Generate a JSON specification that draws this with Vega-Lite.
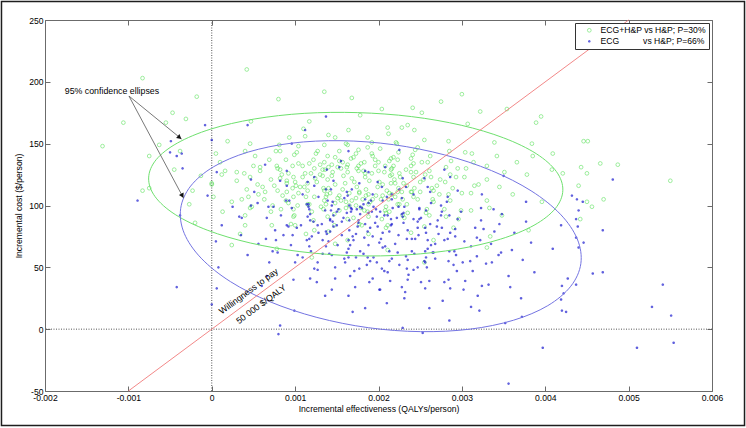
{
"$schema": "https://vega.github.io/schema/vega-lite/v6.json",
"width": 667, "height": 371,
"autosize": {"type": "none"},
"padding": {"left": 45, "top": 20, "right": 34, "bottom": 37},
"background": "white",
"data": {"values": [{}]},
"datasets": {
"pts": [
{"s":"g","x":0.00171,"y":119},{"s":"g","x":0.00158,"y":124},{"s":"g","x":0.00185,"y":113},{"s":"g","x":0.00165,"y":110},{"s":"g","x":0.00192,"y":126},{"s":"g","x":0.00148,"y":117},{"s":"g","x":0.00201,"y":119},{"s":"g","x":0.00176,"y":128},{"s":"g","x":0.00139,"y":121},{"s":"g","x":0.00210,"y":112},
{"s":"g","x":0.00162,"y":131},{"s":"g","x":0.00181,"y":105},{"s":"g","x":0.00153,"y":108},{"s":"g","x":0.00196,"y":132},{"s":"g","x":0.00134,"y":114},{"s":"g","x":0.00214,"y":124},{"s":"g","x":0.00174,"y":115},{"s":"g","x":0.00189,"y":120},{"s":"g","x":0.00145,"y":127},{"s":"g","x":0.00168,"y":122},
{"s":"g","x":0.00205,"y":108},{"s":"g","x":0.00130,"y":125},{"s":"g","x":0.00179,"y":134},{"s":"g","x":0.00157,"y":113},{"s":"g","x":0.00220,"y":118},{"s":"g","x":0.00188,"y":109},{"s":"g","x":0.00142,"y":110},{"s":"g","x":0.00199,"y":115},{"s":"g","x":0.00163,"y":127},{"s":"g","x":0.00173,"y":106},
{"s":"g","x":0.00151,"y":131},{"s":"g","x":0.00216,"y":130},{"s":"g","x":0.00184,"y":123},{"s":"g","x":0.00126,"y":119},{"s":"g","x":0.00207,"y":127},{"s":"g","x":0.00136,"y":129},{"s":"g","x":0.00193,"y":105},{"s":"g","x":0.00177,"y":111},{"s":"g","x":0.00160,"y":118},{"s":"g","x":0.00224,"y":114},
{"s":"g","x":0.00230,"y":118},{"s":"g","x":0.00254,"y":121},{"s":"g","x":0.00242,"y":123},{"s":"g","x":0.00261,"y":128},{"s":"g","x":0.00225,"y":126},{"s":"g","x":0.00239,"y":132},{"s":"g","x":0.00213,"y":136},{"s":"g","x":0.00223,"y":137},{"s":"g","x":0.00200,"y":128},{"s":"g","x":0.00196,"y":137},
{"s":"g","x":0.00183,"y":135},{"s":"g","x":0.00173,"y":142},{"s":"g","x":0.00163,"y":133},{"s":"g","x":0.00148,"y":139},{"s":"g","x":0.00144,"y":133},{"s":"g","x":0.00122,"y":137},{"s":"g","x":0.00133,"y":129},{"s":"g","x":0.00109,"y":132},{"s":"g","x":0.00112,"y":126},{"s":"g","x":0.00082,"y":129},
{"s":"g","x":0.00109,"y":123},{"s":"g","x":0.00082,"y":122},{"s":"g","x":0.00100,"y":119},{"s":"g","x":0.00075,"y":116},{"s":"g","x":0.00111,"y":115},{"s":"g","x":0.00090,"y":111},{"s":"g","x":0.00104,"y":110},{"s":"g","x":0.00089,"y":104},{"s":"g","x":0.00123,"y":107},{"s":"g","x":0.00115,"y":101},
{"s":"g","x":0.00135,"y":104},{"s":"g","x":0.00134,"y":97},{"s":"g","x":0.00155,"y":104},{"s":"g","x":0.00161,"y":98},{"s":"g","x":0.00173,"y":100},{"s":"g","x":0.00187,"y":95},{"s":"g","x":0.00190,"y":103},{"s":"g","x":0.00209,"y":99},{"s":"g","x":0.00212,"y":105},{"s":"g","x":0.00234,"y":101},
{"s":"g","x":0.00216,"y":109},{"s":"g","x":0.00242,"y":107},{"s":"g","x":0.00239,"y":111},{"s":"g","x":0.00266,"y":112},{"s":"g","x":0.00234,"y":116},
{"s":"g","x":0.00250,"y":119},{"s":"g","x":0.00263,"y":123},{"s":"g","x":0.00226,"y":123},{"s":"g","x":0.00245,"y":127},{"s":"g","x":0.00233,"y":129},{"s":"g","x":0.00242,"y":134},{"s":"g","x":0.00208,"y":132},{"s":"g","x":0.00218,"y":139},{"s":"g","x":0.00200,"y":135},{"s":"g","x":0.00193,"y":140},
{"s":"g","x":0.00176,"y":132},{"s":"g","x":0.00167,"y":138},{"s":"g","x":0.00157,"y":135},{"s":"g","x":0.00139,"y":140},{"s":"g","x":0.00135,"y":135},{"s":"g","x":0.00117,"y":134},{"s":"g","x":0.00123,"y":130},{"s":"g","x":0.00097,"y":132},{"s":"g","x":0.00119,"y":126},{"s":"g","x":0.00092,"y":126},
{"s":"g","x":0.00098,"y":123},{"s":"g","x":0.00071,"y":121},{"s":"g","x":0.00090,"y":118},{"s":"g","x":0.00101,"y":116},{"s":"g","x":0.00079,"y":112},{"s":"g","x":0.00115,"y":112},{"s":"g","x":0.00098,"y":107},{"s":"g","x":0.00113,"y":107},{"s":"g","x":0.00103,"y":100},{"s":"g","x":0.00137,"y":107},
{"s":"g","x":0.00131,"y":99},{"s":"g","x":0.00148,"y":102},{"s":"g","x":0.00153,"y":96},{"s":"g","x":0.00168,"y":104},{"s":"g","x":0.00179,"y":98},{"s":"g","x":0.00188,"y":101},{"s":"g","x":0.00208,"y":96},{"s":"g","x":0.00203,"y":105},{"s":"g","x":0.00225,"y":101},{"s":"g","x":0.00220,"y":107},
{"s":"g","x":0.00247,"y":105},{"s":"g","x":0.00223,"y":111},{"s":"g","x":0.00250,"y":111},{"s":"g","x":0.00243,"y":114},{"s":"g","x":0.00270,"y":116},
{"s":"g","x":0.00280,"y":119},{"s":"g","x":0.00303,"y":123},{"s":"g","x":0.00286,"y":125},{"s":"g","x":0.00305,"y":130},{"s":"g","x":0.00281,"y":131},{"s":"g","x":0.00287,"y":136},{"s":"g","x":0.00259,"y":135},{"s":"g","x":0.00262,"y":140},{"s":"g","x":0.00239,"y":138},{"s":"g","x":0.00244,"y":145},
{"s":"g","x":0.00224,"y":143},{"s":"g","x":0.00222,"y":150},{"s":"g","x":0.00202,"y":146},{"s":"g","x":0.00192,"y":151},{"s":"g","x":0.00176,"y":145},{"s":"g","x":0.00163,"y":149},{"s":"g","x":0.00153,"y":144},{"s":"g","x":0.00135,"y":149},{"s":"g","x":0.00127,"y":144},{"s":"g","x":0.00104,"y":148},
{"s":"g","x":0.00102,"y":143},{"s":"g","x":0.00082,"y":144},{"s":"g","x":0.00089,"y":137},{"s":"g","x":0.00069,"y":137},{"s":"g","x":0.00078,"y":132},{"s":"g","x":0.00050,"y":132},{"s":"g","x":0.00058,"y":128},{"s":"g","x":0.00030,"y":127},{"s":"g","x":0.00046,"y":123},{"s":"g","x":0.00030,"y":120},
{"s":"g","x":0.00055,"y":117},{"s":"g","x":0.00042,"y":113},{"s":"g","x":0.00064,"y":111},{"s":"g","x":0.00044,"y":107},{"s":"g","x":0.00063,"y":105},{"s":"g","x":0.00048,"y":99},{"s":"g","x":0.00073,"y":100},{"s":"g","x":0.00071,"y":95},{"s":"g","x":0.00098,"y":97},{"s":"g","x":0.00099,"y":92},
{"s":"g","x":0.00120,"y":95},{"s":"g","x":0.00122,"y":88},{"s":"g","x":0.00139,"y":91},{"s":"g","x":0.00147,"y":84},{"s":"g","x":0.00163,"y":89},{"s":"g","x":0.00177,"y":85},{"s":"g","x":0.00188,"y":91},{"s":"g","x":0.00204,"y":89},{"s":"g","x":0.00209,"y":94},{"s":"g","x":0.00231,"y":90},
{"s":"g","x":0.00235,"y":94},{"s":"g","x":0.00261,"y":92},{"s":"g","x":0.00258,"y":97},{"s":"g","x":0.00279,"y":97},{"s":"g","x":0.00266,"y":103},{"s":"g","x":0.00286,"y":104},{"s":"g","x":0.00273,"y":109},{"s":"g","x":0.00300,"y":110},{"s":"g","x":0.00289,"y":114},{"s":"g","x":0.00315,"y":116},
{"s":"g","x":0.00330,"y":121},{"s":"g","x":0.00351,"y":127},{"s":"g","x":0.00330,"y":132},{"s":"g","x":0.00342,"y":140},{"s":"g","x":0.00312,"y":142},{"s":"g","x":0.00285,"y":144},{"s":"g","x":0.00284,"y":152},{"s":"g","x":0.00255,"y":153},{"s":"g","x":0.00243,"y":161},{"s":"g","x":0.00212,"y":158},
{"s":"g","x":0.00187,"y":155},{"s":"g","x":0.00164,"y":161},{"s":"g","x":0.00140,"y":157},{"s":"g","x":0.00110,"y":162},{"s":"g","x":0.00093,"y":155},{"s":"g","x":0.00081,"y":149},{"s":"g","x":0.00046,"y":150},{"s":"g","x":0.00040,"y":144},{"s":"g","x":0.00005,"y":142},{"s":"g","x":0.00010,"y":135},
{"s":"g","x":0.00016,"y":128},{"s":"g","x":-0.00013,"y":124},{"s":"g","x":0.00000,"y":118},{"s":"g","x":-0.00023,"y":112},{"s":"g","x":0.00002,"y":107},{"s":"g","x":0.00024,"y":103},{"s":"g","x":0.00013,"y":95},{"s":"g","x":0.00040,"y":92},{"s":"g","x":0.00040,"y":84},{"s":"g","x":0.00072,"y":84},
{"s":"g","x":0.00100,"y":84},{"s":"g","x":0.00113,"y":77},{"s":"g","x":0.00140,"y":79},{"s":"g","x":0.00163,"y":72},{"s":"g","x":0.00188,"y":77},{"s":"g","x":0.00209,"y":82},{"s":"g","x":0.00239,"y":78},{"s":"g","x":0.00255,"y":83},{"s":"g","x":0.00290,"y":82},{"s":"g","x":0.00296,"y":89},
{"s":"g","x":0.00299,"y":96},{"s":"g","x":0.00333,"y":98},{"s":"g","x":0.00330,"y":104},{"s":"g","x":0.00361,"y":109},{"s":"g","x":0.00345,"y":115},
{"s":"g","x":0.00378,"y":125},{"s":"g","x":0.00385,"y":140},{"s":"g","x":0.00339,"y":151},{"s":"g","x":0.00307,"y":166},{"s":"g","x":0.00235,"y":165},{"s":"g","x":0.00178,"y":173},{"s":"g","x":0.00117,"y":168},{"s":"g","x":0.00047,"y":168},{"s":"g","x":0.00019,"y":152},{"s":"g","x":-0.00038,"y":144},
{"s":"g","x":-0.00045,"y":129},{"s":"g","x":-0.00075,"y":114},{"s":"g","x":-0.00027,"y":101},{"s":"g","x":-0.00020,"y":86},{"s":"g","x":0.00034,"y":77},{"s":"g","x":0.00078,"y":65},{"s":"g","x":0.00148,"y":69},{"s":"g","x":0.00211,"y":64},{"s":"g","x":0.00266,"y":72},{"s":"g","x":0.00334,"y":75},
{"s":"g","x":0.00348,"y":92},{"s":"g","x":0.00396,"y":103},
{"s":"g","x":0.00215,"y":118},{"s":"g","x":0.00293,"y":123},{"s":"g","x":0.00256,"y":125},{"s":"g","x":0.00314,"y":135},{"s":"g","x":0.00216,"y":125},{"s":"g","x":0.00252,"y":135},{"s":"g","x":0.00218,"y":132},{"s":"g","x":0.00247,"y":147},{"s":"g","x":0.00184,"y":126},{"s":"g","x":0.00182,"y":128},
{"s":"g","x":0.00187,"y":147},{"s":"g","x":0.00170,"y":139},{"s":"g","x":0.00148,"y":155},{"s":"g","x":0.00155,"y":130},{"s":"g","x":0.00125,"y":142},{"s":"g","x":0.00130,"y":133},{"s":"g","x":0.00077,"y":144},{"s":"g","x":0.00144,"y":124},{"s":"g","x":0.00133,"y":124},{"s":"g","x":0.00058,"y":131},
{"s":"g","x":0.00084,"y":125},{"s":"g","x":0.00012,"y":125},{"s":"g","x":0.00115,"y":118},{"s":"g","x":0.00061,"y":115},{"s":"g","x":0.00097,"y":114},{"s":"g","x":0.00036,"y":105},{"s":"g","x":0.00140,"y":114},{"s":"g","x":0.00135,"y":112},{"s":"g","x":0.00083,"y":97},{"s":"g","x":0.00117,"y":101},
{"s":"g","x":0.00095,"y":85},{"s":"g","x":0.00151,"y":106},{"s":"g","x":0.00147,"y":93},{"s":"g","x":0.00165,"y":100},{"s":"g","x":0.00180,"y":84},{"s":"g","x":0.00177,"y":110},{"s":"g","x":0.00185,"y":108},{"s":"g","x":0.00229,"y":92},{"s":"g","x":0.00223,"y":101},{"s":"g","x":0.00281,"y":91},
{"s":"g","x":0.00213,"y":110},{"s":"g","x":0.00265,"y":105},{"s":"g","x":0.00240,"y":111},{"s":"g","x":0.00311,"y":110},{"s":"g","x":0.00205,"y":117},
{"s":"g","x":0.00274,"y":121},{"s":"g","x":0.00219,"y":121},{"s":"g","x":0.00295,"y":130},{"s":"g","x":0.00239,"y":127},{"s":"g","x":0.00304,"y":143},{"s":"g","x":0.00215,"y":129},{"s":"g","x":0.00241,"y":141},{"s":"g","x":0.00215,"y":138},{"s":"g","x":0.00221,"y":151},{"s":"g","x":0.00192,"y":142},
{"s":"g","x":0.00174,"y":130},{"s":"g","x":0.00161,"y":150},{"s":"g","x":0.00153,"y":136},{"s":"g","x":0.00112,"y":156},{"s":"g","x":0.00140,"y":131},{"s":"g","x":0.00099,"y":141},{"s":"g","x":0.00104,"y":134},{"s":"g","x":0.00052,"y":140},{"s":"g","x":0.00079,"y":130},{"s":"g","x":0.00124,"y":122},
{"s":"g","x":0.00039,"y":126},{"s":"g","x":0.00090,"y":120},{"s":"g","x":0.00000,"y":117},{"s":"g","x":0.00106,"y":115},{"s":"g","x":0.00056,"y":109},{"s":"g","x":0.00085,"y":108},{"s":"g","x":0.00046,"y":98},{"s":"g","x":0.00092,"y":102},{"s":"g","x":0.00138,"y":109},{"s":"g","x":0.00098,"y":91},
{"s":"g","x":0.00137,"y":101},{"s":"g","x":0.00123,"y":80},{"s":"g","x":0.00161,"y":103},{"s":"g","x":0.00170,"y":90},{"s":"g","x":0.00183,"y":96},{"s":"g","x":0.00211,"y":84},{"s":"g","x":0.00213,"y":95},{"s":"g","x":0.00197,"y":108},{"s":"g","x":0.00257,"y":94},{"s":"g","x":0.00229,"y":105},
{"s":"g","x":0.00311,"y":96},{"s":"g","x":0.00228,"y":111},{"s":"g","x":0.00284,"y":109},{"s":"g","x":0.00264,"y":114},{"s":"g","x":0.00320,"y":117},
{"s":"g","x":-0.00131,"y":148},{"s":"g","x":-0.00106,"y":167},{"s":"g","x":-0.00083,"y":203},{"s":"g","x":-0.00047,"y":175},{"s":"g","x":-0.00055,"y":167},{"s":"g","x":-0.00031,"y":170},{"s":"g","x":-0.00083,"y":112},{"s":"g","x":-0.00075,"y":140},{"s":"g","x":-0.00063,"y":149},{"s":"g","x":-0.00018,"y":188},
{"s":"g","x":0.00042,"y":210},{"s":"g","x":0.00446,"y":152},{"s":"g","x":0.00451,"y":152},{"s":"g","x":0.00443,"y":131},{"s":"g","x":0.00466,"y":134},{"s":"g","x":0.00487,"y":133},{"s":"g","x":0.00450,"y":126},{"s":"g","x":0.00440,"y":116},{"s":"g","x":0.00550,"y":120},{"s":"g","x":0.00470,"y":105},
{"s":"g","x":0.00450,"y":103},{"s":"g","x":0.00456,"y":99},{"s":"g","x":0.00442,"y":89},{"s":"g","x":0.00421,"y":126},{"s":"g","x":0.00384,"y":150},{"s":"g","x":0.00395,"y":172},{"s":"g","x":0.00389,"y":167},{"s":"g","x":0.00354,"y":178},{"s":"g","x":0.00241,"y":179},{"s":"g","x":0.00204,"y":178},
{"s":"g","x":0.00252,"y":175},{"s":"g","x":0.00211,"y":163},{"s":"g","x":0.00228,"y":163},{"s":"g","x":0.00408,"y":129},{"s":"g","x":0.00409,"y":142},{"s":"g","x":0.00366,"y":135},{"s":"g","x":0.00080,"y":186},{"s":"g","x":0.00135,"y":192},{"s":"g","x":0.00275,"y":184},{"s":"g","x":0.00300,"y":190},
{"s":"g","x":0.00168,"y":187},{"s":"g","x":0.00322,"y":176},{"s":"g","x":0.00024,"y":68},{"s":"g","x":0.00120,"y":58},{"s":"g","x":0.00255,"y":54},{"s":"g","x":0.00330,"y":66},{"s":"g","x":0.00380,"y":80},
{"s":"b","x":0.00190,"y":82},{"s":"b","x":0.00176,"y":88},{"s":"b","x":0.00205,"y":78},{"s":"b","x":0.00183,"y":74},{"s":"b","x":0.00198,"y":91},{"s":"b","x":0.00165,"y":80},{"s":"b","x":0.00215,"y":84},{"s":"b","x":0.00192,"y":95},{"s":"b","x":0.00158,"y":90},{"s":"b","x":0.00224,"y":76},
{"s":"b","x":0.00180,"y":98},{"s":"b","x":0.00201,"y":70},{"s":"b","x":0.00170,"y":72},{"s":"b","x":0.00211,"y":92},{"s":"b","x":0.00150,"y":84},{"s":"b","x":0.00230,"y":86},{"s":"b","x":0.00187,"y":79},{"s":"b","x":0.00196,"y":86},{"s":"b","x":0.00162,"y":94},{"s":"b","x":0.00184,"y":85},
{"s":"b","x":0.00220,"y":69},{"s":"b","x":0.00146,"y":92},{"s":"b","x":0.00194,"y":99},{"s":"b","x":0.00173,"y":77},{"s":"b","x":0.00235,"y":80},{"s":"b","x":0.00203,"y":73},{"s":"b","x":0.00156,"y":76},{"s":"b","x":0.00213,"y":79},{"s":"b","x":0.00178,"y":93},{"s":"b","x":0.00188,"y":68},
{"s":"b","x":0.00167,"y":98},{"s":"b","x":0.00228,"y":93},{"s":"b","x":0.00199,"y":83},{"s":"b","x":0.00142,"y":88},{"s":"b","x":0.00222,"y":90},{"s":"b","x":0.00152,"y":97},{"s":"b","x":0.00208,"y":67},{"s":"b","x":0.00193,"y":75},{"s":"b","x":0.00175,"y":83},{"s":"b","x":0.00240,"y":73},
{"s":"b","x":0.00259,"y":72},{"s":"b","x":0.00283,"y":73},{"s":"b","x":0.00272,"y":77},{"s":"b","x":0.00292,"y":81},{"s":"b","x":0.00256,"y":82},{"s":"b","x":0.00271,"y":88},{"s":"b","x":0.00249,"y":89},{"s":"b","x":0.00257,"y":96},{"s":"b","x":0.00229,"y":91},{"s":"b","x":0.00231,"y":99},
{"s":"b","x":0.00217,"y":98},{"s":"b","x":0.00210,"y":107},{"s":"b","x":0.00197,"y":97},{"s":"b","x":0.00184,"y":105},{"s":"b","x":0.00178,"y":99},{"s":"b","x":0.00159,"y":106},{"s":"b","x":0.00167,"y":95},{"s":"b","x":0.00144,"y":100},{"s":"b","x":0.00143,"y":96},{"s":"b","x":0.00116,"y":99},
{"s":"b","x":0.00142,"y":89},{"s":"b","x":0.00115,"y":91},{"s":"b","x":0.00132,"y":85},{"s":"b","x":0.00107,"y":84},{"s":"b","x":0.00142,"y":79},{"s":"b","x":0.00120,"y":75},{"s":"b","x":0.00133,"y":72},{"s":"b","x":0.00117,"y":67},{"s":"b","x":0.00151,"y":68},{"s":"b","x":0.00141,"y":61},
{"s":"b","x":0.00162,"y":62},{"s":"b","x":0.00160,"y":54},{"s":"b","x":0.00182,"y":61},{"s":"b","x":0.00186,"y":52},{"s":"b","x":0.00198,"y":54},{"s":"b","x":0.00211,"y":46},{"s":"b","x":0.00216,"y":57},{"s":"b","x":0.00234,"y":49},{"s":"b","x":0.00235,"y":56},{"s":"b","x":0.00258,"y":50},
{"s":"b","x":0.00243,"y":61},{"s":"b","x":0.00268,"y":57},{"s":"b","x":0.00265,"y":62},{"s":"b","x":0.00293,"y":60},{"s":"b","x":0.00263,"y":68},
{"s":"b","x":0.00279,"y":72},{"s":"b","x":0.00292,"y":75},{"s":"b","x":0.00257,"y":78},{"s":"b","x":0.00276,"y":82},{"s":"b","x":0.00262,"y":85},{"s":"b","x":0.00275,"y":92},{"s":"b","x":0.00242,"y":89},{"s":"b","x":0.00249,"y":97},{"s":"b","x":0.00230,"y":94},{"s":"b","x":0.00224,"y":99},
{"s":"b","x":0.00216,"y":105},{"s":"b","x":0.00202,"y":95},{"s":"b","x":0.00191,"y":104},{"s":"b","x":0.00182,"y":101},{"s":"b","x":0.00163,"y":108},{"s":"b","x":0.00168,"y":97},{"s":"b","x":0.00145,"y":103},{"s":"b","x":0.00150,"y":95},{"s":"b","x":0.00136,"y":96},{"s":"b","x":0.00117,"y":97},
{"s":"b","x":0.00145,"y":87},{"s":"b","x":0.00118,"y":88},{"s":"b","x":0.00127,"y":84},{"s":"b","x":0.00102,"y":82},{"s":"b","x":0.00138,"y":77},{"s":"b","x":0.00117,"y":73},{"s":"b","x":0.00140,"y":71},{"s":"b","x":0.00137,"y":67},{"s":"b","x":0.00133,"y":61},{"s":"b","x":0.00164,"y":65},
{"s":"b","x":0.00159,"y":57},{"s":"b","x":0.00173,"y":58},{"s":"b","x":0.00177,"y":49},{"s":"b","x":0.00194,"y":58},{"s":"b","x":0.00204,"y":49},{"s":"b","x":0.00213,"y":55},{"s":"b","x":0.00225,"y":52},{"s":"b","x":0.00242,"y":48},{"s":"b","x":0.00233,"y":59},{"s":"b","x":0.00256,"y":54},
{"s":"b","x":0.00257,"y":58},{"s":"b","x":0.00284,"y":55},{"s":"b","x":0.00259,"y":65},{"s":"b","x":0.00285,"y":63},{"s":"b","x":0.00268,"y":69},
{"s":"b","x":0.00311,"y":67},{"s":"b","x":0.00335,"y":69},{"s":"b","x":0.00318,"y":74},{"s":"b","x":0.00339,"y":79},{"s":"b","x":0.00316,"y":82},{"s":"b","x":0.00323,"y":88},{"s":"b","x":0.00295,"y":89},{"s":"b","x":0.00299,"y":95},{"s":"b","x":0.00276,"y":95},{"s":"b","x":0.00282,"y":103},
{"s":"b","x":0.00263,"y":102},{"s":"b","x":0.00262,"y":111},{"s":"b","x":0.00242,"y":109},{"s":"b","x":0.00233,"y":115},{"s":"b","x":0.00216,"y":109},{"s":"b","x":0.00204,"y":115},{"s":"b","x":0.00193,"y":109},{"s":"b","x":0.00177,"y":118},{"s":"b","x":0.00168,"y":113},{"s":"b","x":0.00146,"y":120},
{"s":"b","x":0.00143,"y":113},{"s":"b","x":0.00123,"y":116},{"s":"b","x":0.00128,"y":107},{"s":"b","x":0.00109,"y":109},{"s":"b","x":0.00116,"y":101},{"s":"b","x":0.00089,"y":104},{"s":"b","x":0.00096,"y":98},{"s":"b","x":0.00068,"y":99},{"s":"b","x":0.00083,"y":92},{"s":"b","x":0.00066,"y":90},
{"s":"b","x":0.00090,"y":84},{"s":"b","x":0.00076,"y":80},{"s":"b","x":0.00097,"y":76},{"s":"b","x":0.00077,"y":72},{"s":"b","x":0.00095,"y":68},{"s":"b","x":0.00079,"y":62},{"s":"b","x":0.00103,"y":60},{"s":"b","x":0.00100,"y":54},{"s":"b","x":0.00127,"y":54},{"s":"b","x":0.00127,"y":48},
{"s":"b","x":0.00148,"y":50},{"s":"b","x":0.00148,"y":41},{"s":"b","x":0.00166,"y":43},{"s":"b","x":0.00172,"y":34},{"s":"b","x":0.00189,"y":38},{"s":"b","x":0.00202,"y":32},{"s":"b","x":0.00214,"y":39},{"s":"b","x":0.00228,"y":34},{"s":"b","x":0.00235,"y":40},{"s":"b","x":0.00256,"y":33},
{"s":"b","x":0.00261,"y":39},{"s":"b","x":0.00286,"y":33},{"s":"b","x":0.00284,"y":40},{"s":"b","x":0.00304,"y":39},{"s":"b","x":0.00294,"y":47},{"s":"b","x":0.00313,"y":47},{"s":"b","x":0.00301,"y":54},{"s":"b","x":0.00329,"y":53},{"s":"b","x":0.00318,"y":59},{"s":"b","x":0.00344,"y":60},
{"s":"b","x":0.00360,"y":64},{"s":"b","x":0.00383,"y":70},{"s":"b","x":0.00363,"y":78},{"s":"b","x":0.00377,"y":87},{"s":"b","x":0.00348,"y":93},{"s":"b","x":0.00323,"y":98},{"s":"b","x":0.00324,"y":109},{"s":"b","x":0.00295,"y":112},{"s":"b","x":0.00286,"y":123},{"s":"b","x":0.00255,"y":122},
{"s":"b","x":0.00229,"y":122},{"s":"b","x":0.00208,"y":131},{"s":"b","x":0.00184,"y":128},{"s":"b","x":0.00155,"y":136},{"s":"b","x":0.00138,"y":129},{"s":"b","x":0.00123,"y":123},{"s":"b","x":0.00090,"y":128},{"s":"b","x":0.00082,"y":120},{"s":"b","x":0.00047,"y":121},{"s":"b","x":0.00051,"y":111},
{"s":"b","x":0.00055,"y":102},{"s":"b","x":0.00025,"y":99},{"s":"b","x":0.00036,"y":90},{"s":"b","x":0.00012,"y":84},{"s":"b","x":0.00035,"y":76},{"s":"b","x":0.00056,"y":69},{"s":"b","x":0.00043,"y":60},{"s":"b","x":0.00069,"y":54},{"s":"b","x":0.00066,"y":43},{"s":"b","x":0.00098,"y":40},
{"s":"b","x":0.00126,"y":38},{"s":"b","x":0.00136,"y":27},{"s":"b","x":0.00164,"y":27},{"s":"b","x":0.00184,"y":17},{"s":"b","x":0.00210,"y":21},{"s":"b","x":0.00231,"y":25},{"s":"b","x":0.00261,"y":17},{"s":"b","x":0.00277,"y":23},{"s":"b","x":0.00311,"y":18},{"s":"b","x":0.00319,"y":27},
{"s":"b","x":0.00324,"y":35},{"s":"b","x":0.00358,"y":34},{"s":"b","x":0.00356,"y":43},{"s":"b","x":0.00387,"y":46},{"s":"b","x":0.00373,"y":56},
{"s":"b","x":0.00409,"y":65},{"s":"b","x":0.00419,"y":84},{"s":"b","x":0.00377,"y":103},{"s":"b","x":0.00350,"y":124},{"s":"b","x":0.00279,"y":129},{"s":"b","x":0.00225,"y":145},{"s":"b","x":0.00164,"y":144},{"s":"b","x":0.00096,"y":150},{"s":"b","x":0.00064,"y":133},{"s":"b","x":0.00006,"y":127},
{"s":"b","x":-0.00005,"y":108},{"s":"b","x":-0.00038,"y":92},{"s":"b","x":0.00005,"y":71},{"s":"b","x":0.00008,"y":50},{"s":"b","x":0.00060,"y":35},{"s":"b","x":0.00099,"y":15},{"s":"b","x":0.00169,"y":14},{"s":"b","x":0.00229,"y":1},{"s":"b","x":0.00285,"y":7},{"s":"b","x":0.00352,"y":5},
{"s":"b","x":0.00371,"y":25},{"s":"b","x":0.00420,"y":35},
{"s":"b","x":0.00244,"y":73},{"s":"b","x":0.00322,"y":72},{"s":"b","x":0.00286,"y":78},{"s":"b","x":0.00345,"y":85},{"s":"b","x":0.00247,"y":82},{"s":"b","x":0.00285,"y":92},{"s":"b","x":0.00251,"y":90},{"s":"b","x":0.00283,"y":107},{"s":"b","x":0.00216,"y":85},{"s":"b","x":0.00215,"y":89},
{"s":"b","x":0.00225,"y":113},{"s":"b","x":0.00205,"y":104},{"s":"b","x":0.00188,"y":127},{"s":"b","x":0.00188,"y":94},{"s":"b","x":0.00162,"y":111},{"s":"b","x":0.00165,"y":100},{"s":"b","x":0.00115,"y":119},{"s":"b","x":0.00176,"y":86},{"s":"b","x":0.00165,"y":88},{"s":"b","x":0.00093,"y":104},
{"s":"b","x":0.00118,"y":93},{"s":"b","x":0.00047,"y":100},{"s":"b","x":0.00146,"y":83},{"s":"b","x":0.00092,"y":83},{"s":"b","x":0.00128,"y":78},{"s":"b","x":0.00065,"y":73},{"s":"b","x":0.00169,"y":75},{"s":"b","x":0.00164,"y":72},{"s":"b","x":0.00109,"y":58},{"s":"b","x":0.00144,"y":60},
{"s":"b","x":0.00118,"y":41},{"s":"b","x":0.00178,"y":63},{"s":"b","x":0.00171,"y":47},{"s":"b","x":0.00190,"y":55},{"s":"b","x":0.00201,"y":32},{"s":"b","x":0.00205,"y":66},{"s":"b","x":0.00213,"y":63},{"s":"b","x":0.00251,"y":38},{"s":"b","x":0.00247,"y":50},{"s":"b","x":0.00302,"y":32},
{"s":"b","x":0.00240,"y":63},{"s":"b","x":0.00290,"y":52},{"s":"b","x":0.00266,"y":62},{"s":"b","x":0.00336,"y":54},{"s":"b","x":0.00234,"y":73},
{"s":"b","x":0.00303,"y":71},{"s":"b","x":0.00248,"y":76},{"s":"b","x":0.00326,"y":81},{"s":"b","x":0.00270,"y":83},{"s":"b","x":0.00338,"y":97},{"s":"b","x":0.00247,"y":87},{"s":"b","x":0.00275,"y":100},{"s":"b","x":0.00249,"y":98},{"s":"b","x":0.00259,"y":115},{"s":"b","x":0.00228,"y":106},
{"s":"b","x":0.00207,"y":92},{"s":"b","x":0.00199,"y":119},{"s":"b","x":0.00188,"y":102},{"s":"b","x":0.00153,"y":131},{"s":"b","x":0.00174,"y":97},{"s":"b","x":0.00137,"y":113},{"s":"b","x":0.00139,"y":104},{"s":"b","x":0.00090,"y":116},{"s":"b","x":0.00114,"y":101},{"s":"b","x":0.00156,"y":87},
{"s":"b","x":0.00074,"y":99},{"s":"b","x":0.00122,"y":87},{"s":"b","x":0.00033,"y":91},{"s":"b","x":0.00137,"y":79},{"s":"b","x":0.00086,"y":76},{"s":"b","x":0.00114,"y":72},{"s":"b","x":0.00073,"y":63},{"s":"b","x":0.00119,"y":63},{"s":"b","x":0.00166,"y":68},{"s":"b","x":0.00123,"y":49},
{"s":"b","x":0.00164,"y":58},{"s":"b","x":0.00144,"y":32},{"s":"b","x":0.00187,"y":58},{"s":"b","x":0.00193,"y":41},{"s":"b","x":0.00207,"y":47},{"s":"b","x":0.00232,"y":30},{"s":"b","x":0.00236,"y":44},{"s":"b","x":0.00223,"y":62},{"s":"b","x":0.00279,"y":38},{"s":"b","x":0.00255,"y":55},
{"s":"b","x":0.00332,"y":36},{"s":"b","x":0.00256,"y":63},{"s":"b","x":0.00310,"y":55},{"s":"b","x":0.00291,"y":63},{"s":"b","x":0.00347,"y":62},
{"s":"b","x":0.00481,"y":121},{"s":"b","x":0.00432,"y":108},{"s":"b","x":0.00438,"y":105},{"s":"b","x":0.00445,"y":103},{"s":"b","x":0.00440,"y":96},{"s":"b","x":0.00437,"y":89},{"s":"b","x":0.00439,"y":83},{"s":"b","x":0.00469,"y":80},{"s":"b","x":0.00437,"y":74},{"s":"b","x":0.00446,"y":70},
{"s":"b","x":0.00440,"y":66},{"s":"b","x":0.00457,"y":45},{"s":"b","x":0.00469,"y":46},{"s":"b","x":0.00427,"y":41},{"s":"b","x":0.00437,"y":36},{"s":"b","x":0.00541,"y":36},{"s":"b","x":0.00422,"y":29},{"s":"b","x":0.00419,"y":24},{"s":"b","x":0.00425,"y":14},{"s":"b","x":0.00528,"y":18},
{"s":"b","x":0.00551,"y":11},{"s":"b","x":0.00510,"y":-15},{"s":"b","x":0.00554,"y":-11},{"s":"b","x":0.00397,"y":-15},{"s":"b","x":0.00253,"y":-3},{"s":"b","x":0.00321,"y":15},{"s":"b","x":0.00372,"y":10},{"s":"b","x":0.00420,"y":15},{"s":"b","x":-0.00042,"y":34},{"s":"b","x":0.00080,"y":-4},
{"s":"b","x":0.00082,"y":3},{"s":"b","x":0.00006,"y":33},{"s":"b","x":0.00000,"y":20},{"s":"b","x":-0.00089,"y":104},{"s":"b","x":-0.00049,"y":152},{"s":"b","x":-0.00042,"y":140},{"s":"b","x":-0.00036,"y":142},{"s":"b","x":-0.00035,"y":130},{"s":"b","x":0.00356,"y":-44},{"s":"b","x":-0.00008,"y":165},
{"s":"b","x":0.00043,"y":165},{"s":"b","x":0.00137,"y":172},{"s":"b","x":0.00112,"y":161},{"s":"b","x":0.00000,"y":153},{"s":"b","x":-0.00050,"y":143}
],
"ell": [
{"e":"g","i":0,"x":0.004211,"y":112.3},{"e":"g","i":1,"x":0.004120,"y":97.5},{"e":"g","i":2,"x":0.003865,"y":84.0},{"e":"g","i":3,"x":0.003464,"y":72.8},{"e":"g","i":4,"x":0.002946,"y":64.7},{"e":"g","i":5,"x":0.002345,"y":60.1},
{"e":"g","i":6,"x":0.001702,"y":59.4},{"e":"g","i":7,"x":0.001058,"y":62.7},{"e":"g","i":8,"x":0.000462,"y":69.7},{"e":"g","i":9,"x":-0.000047,"y":79.9},{"e":"g","i":10,"x":-0.000438,"y":92.7},{"e":"g","i":11,"x":-0.000680,"y":107.2},
{"e":"g","i":12,"x":-0.000757,"y":122.3},{"e":"g","i":13,"x":-0.000666,"y":137.1},{"e":"g","i":14,"x":-0.000412,"y":150.5},{"e":"g","i":15,"x":-0.000011,"y":161.8},{"e":"g","i":16,"x":0.000508,"y":169.9},{"e":"g","i":17,"x":0.001109,"y":174.5},
{"e":"g","i":18,"x":0.001752,"y":175.1},{"e":"g","i":19,"x":0.002395,"y":171.9},{"e":"g","i":20,"x":0.002992,"y":164.9},{"e":"g","i":21,"x":0.003500,"y":154.7},{"e":"g","i":22,"x":0.003892,"y":141.9},{"e":"g","i":23,"x":0.004134,"y":127.4},
{"e":"b","i":0,"x":0.004427,"y":53.0},{"e":"b","i":1,"x":0.004306,"y":34.7},{"e":"b","i":2,"x":0.004030,"y":19.0},{"e":"b","i":3,"x":0.003618,"y":7.2},{"e":"b","i":4,"x":0.003097,"y":0.0},{"e":"b","i":5,"x":0.002503,"y":-2.0},
{"e":"b","i":6,"x":0.001877,"y":1.2},{"e":"b","i":7,"x":0.001261,"y":9.5},{"e":"b","i":8,"x":0.000697,"y":22.2},{"e":"b","i":9,"x":0.000223,"y":38.5},{"e":"b","i":10,"x":-0.000127,"y":57.4},{"e":"b","i":11,"x":-0.000330,"y":77.5},
{"e":"b","i":12,"x":-0.000373,"y":97.4},{"e":"b","i":13,"x":-0.000253,"y":115.7},{"e":"b","i":14,"x":0.000024,"y":131.4},{"e":"b","i":15,"x":0.000437,"y":143.2},{"e":"b","i":16,"x":0.000956,"y":150.4},{"e":"b","i":17,"x":0.001550,"y":152.4},
{"e":"b","i":18,"x":0.002177,"y":149.2},{"e":"b","i":19,"x":0.002794,"y":140.9},{"e":"b","i":20,"x":0.003356,"y":128.2},{"e":"b","i":21,"x":0.003830,"y":111.9},{"e":"b","i":22,"x":0.004181,"y":93.0},{"e":"b","i":23,"x":0.004384,"y":72.9}
]
},
"layer": [
{"mark": {"type": "rect", "fillOpacity": 0, "stroke": "#1e1e1e", "strokeWidth": 1.5},
 "encoding": {"x": {"datum": -0.002522, "type": "quantitative", "axis": null}, "x2": {"datum": 0.00639}, "y": {"datum": 264.9, "type": "quantitative", "axis": null}, "y2": {"datum": -77.9}}},
{"mark": {"type": "rule", "strokeDash": [1, 1.5], "color": "#555", "strokeWidth": 1},
 "encoding": {"x": {"datum": 0, "type": "quantitative", "axis": null}}},
{"mark": {"type": "rule", "strokeDash": [1, 1.5], "color": "#555", "strokeWidth": 1},
 "encoding": {"y": {"datum": 0, "type": "quantitative", "axis": null}}},
{"data": {"name": "pts"},
 "mark": {"type": "point", "filled": false},
 "encoding": {
  "x": {"field": "x", "type": "quantitative", "scale": {"domain": [-0.002, 0.006], "nice": false, "zero": false},
        "axis": {"orient": "bottom", "values": [-0.002, -0.001, 0, 0.001, 0.002, 0.003, 0.004, 0.005, 0.006], "labelExpr": "toString(datum.value)", "title": "Incremental effectiveness (QALYs/person)", "titleY": 17, "titleBaseline": "middle"}},
  "y": {"field": "y", "type": "quantitative", "scale": {"domain": [-50, 250], "nice": false, "zero": false},
        "axis": {"orient": "left", "values": [-50, 0, 50, 100, 150, 200, 250], "labelExpr": "toString(datum.value)", "title": "Incremental cost ($/person)", "titleX": -27, "titleBaseline": "middle"}},
  "color": {"field": "s", "type": "nominal", "scale": {"domain": ["g", "b"], "range": ["#3cdc3c", "#1a1ad0"]},
            "legend": {"title": null, "orient": "none", "legendX": 530, "legendY": 3, "labelExpr": "datum.value == 'g' ? 'ECG+H&P vs H&P; P=30%\u00a0\u00a0\u00a0\u00a0' : 'ECG\u00a0\u00a0\u00a0\u00a0\u00a0\u00a0\u00a0\u00a0\u00a0\u00a0vs H&P; P=66%\u00a0\u00a0\u00a0\u00a0'", "strokeColor": "#333", "fillColor": "white", "padding": 3, "symbolOffset": 7, "labelOffset": 7, "rowPadding": 2, "labelFontSize": 8.6, "labelFont": "Liberation Sans"}},
  "size": {"field": "s", "type": "nominal", "scale": {"domain": ["g", "b"], "range": [14, 2]}},
  "strokeWidth": {"field": "s", "type": "nominal", "scale": {"domain": ["g", "b"], "range": [0.7, 1.2]}}
 }},
{"data": {"name": "ell"},
 "transform": [{"filter": "datum.e == 'g'"}],
 "mark": {"type": "line", "interpolate": "cardinal-closed", "color": "#6ee06e", "strokeWidth": 1},
 "encoding": {
  "x": {"field": "x", "type": "quantitative", "axis": {"orient": "top", "labels": false, "title": null, "values": [-0.002, -0.001, 0, 0.001, 0.002, 0.003, 0.004, 0.005, 0.006]}},
  "y": {"field": "y", "type": "quantitative", "axis": {"orient": "right", "labels": false, "title": null, "values": [-50, 0, 50, 100, 150, 200, 250]}},
  "order": {"field": "i", "type": "quantitative"}
 }},
{"data": {"name": "ell"},
 "transform": [{"filter": "datum.e == 'b'"}],
 "mark": {"type": "line", "interpolate": "cardinal-closed", "color": "#7474e2", "strokeWidth": 1},
 "encoding": {
  "x": {"field": "x", "type": "quantitative", "axis": null},
  "y": {"field": "y", "type": "quantitative", "axis": null},
  "order": {"field": "i", "type": "quantitative"}
 }},
{"mark": {"type": "rule", "color": "#f07a7a", "strokeWidth": 0.9},
 "encoding": {"x": {"datum": -0.001, "type": "quantitative", "axis": null}, "y": {"datum": -50, "type": "quantitative", "axis": null}, "x2": {"datum": 0.005}, "y2": {"datum": 250}}},
{"mark": {"type": "rule", "color": "#555", "strokeWidth": 0.8},
 "encoding": {"x": {"datum": -0.000993, "type": "quantitative", "axis": null}, "y": {"datum": 188.5, "type": "quantitative", "axis": null}, "x2": {"datum": -0.000361}, "y2": {"datum": 153.7}}},
{"mark": {"type": "rule", "color": "#555", "strokeWidth": 0.8},
 "encoding": {"x": {"datum": -0.000993, "type": "quantitative", "axis": null}, "y": {"datum": 188.5, "type": "quantitative", "axis": null}, "x2": {"datum": -0.000339}, "y2": {"datum": 106.0}}},
{"mark": {"type": "point", "shape": "triangle", "filled": true, "color": "#111", "size": 28, "angle": 128.4, "opacity": 1},
 "encoding": {"x": {"datum": -0.000393, "type": "quantitative", "axis": null}, "y": {"datum": 155.4, "type": "quantitative", "axis": null}}},
{"mark": {"type": "point", "shape": "triangle", "filled": true, "color": "#111", "size": 28, "angle": 151.6, "opacity": 1},
 "encoding": {"x": {"datum": -0.000357, "type": "quantitative", "axis": null}, "y": {"datum": 108.5, "type": "quantitative", "axis": null}}},
{"mark": {"type": "text", "font": "Liberation Sans", "fontSize": 8.8, "align": "center", "baseline": "middle", "color": "#000"},
 "encoding": {"x": {"datum": -0.001197, "type": "quantitative", "axis": null}, "y": {"datum": 192.3, "type": "quantitative", "axis": null}, "text": {"value": "95% confidence ellipses"}}},
{"mark": {"type": "text", "font": "Liberation Sans", "fontSize": 8.8, "align": "center", "baseline": "middle", "color": "#000", "angle": 323.4},
 "encoding": {"x": {"datum": 0.000441, "type": "quantitative", "axis": null}, "y": {"datum": 30.8, "type": "quantitative", "axis": null}, "text": {"value": "Willingness to pay"}}},
{"mark": {"type": "text", "font": "Liberation Sans", "fontSize": 8.8, "align": "center", "baseline": "middle", "color": "#000", "angle": 323.4},
 "encoding": {"x": {"datum": 0.000591, "type": "quantitative", "axis": null}, "y": {"datum": 20.2, "type": "quantitative", "axis": null}, "text": {"value": "50 000 $/QALY"}}}
],
"resolve": {"axis": {"x": "independent", "y": "independent"}},
"config": {
 "font": "Liberation Sans",
 "view": {"stroke": "#6b6b6b", "strokeWidth": 1},
 "axis": {"grid": false, "domain": false, "labelFont": "Liberation Sans", "labelFontSize": 8.6, "labelColor": "#000", "tickColor": "#6b6b6b", "tickSize": -5, "labelPadding": 7, "titleFont": "Liberation Sans", "titleFontWeight": "normal", "titleFontSize": 8.6, "titleColor": "#000", "labelFlush": false, "labelOverlap": false},
 "legend": {"labelColor": "#000"}
}
}
